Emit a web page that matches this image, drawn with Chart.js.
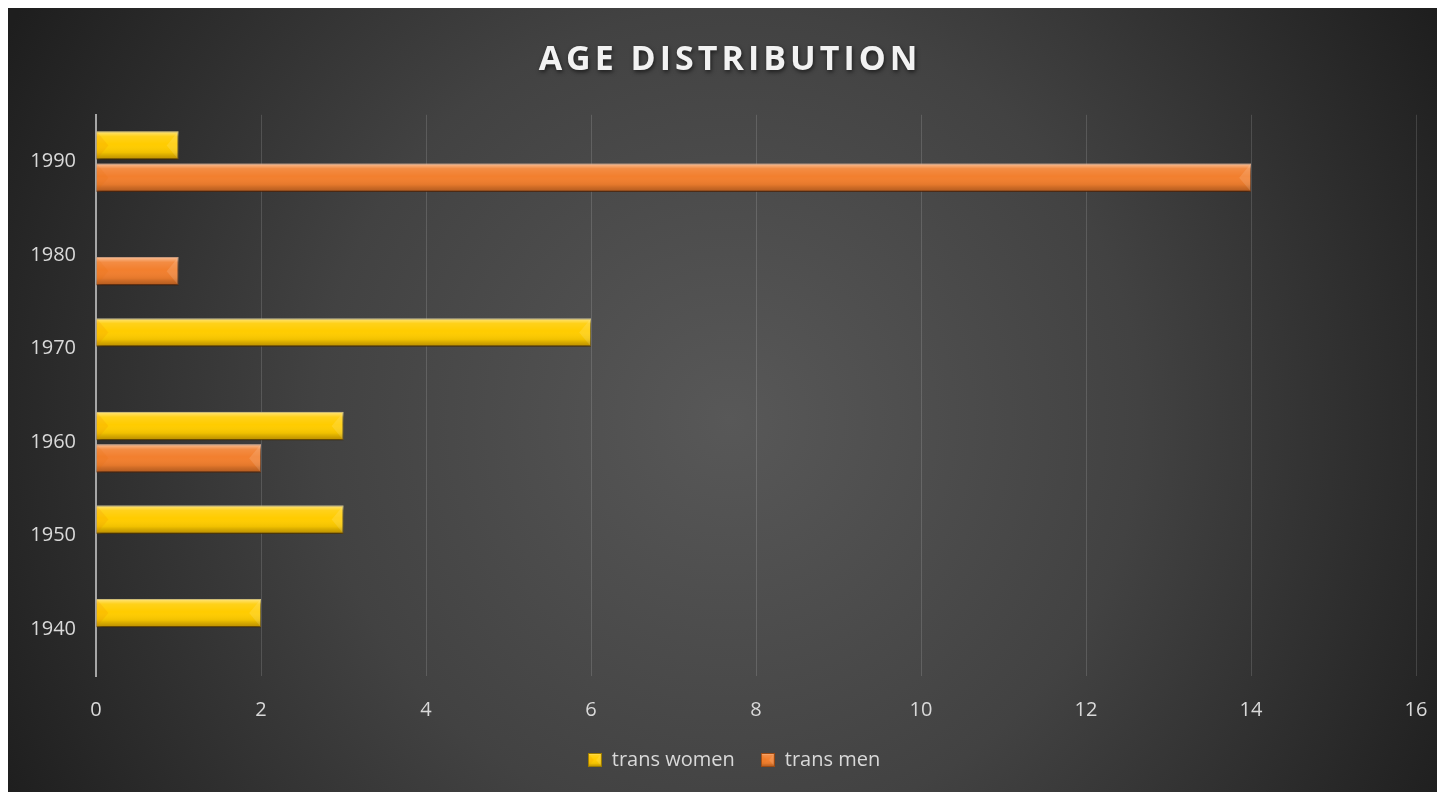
<!DOCTYPE html>
<html>
<head>
<meta charset="utf-8">
<script src="https://cdn.jsdelivr.net/npm/chart.js@4.4.1/dist/chart.umd.min.js"></script>
<style>
    body { margin: 8px; overflow: hidden; background: #fff; }
    canvas { display: block; }
</style>
</head>
<body>
<canvas id="myChart" width="1445" height="792"></canvas>
<script>
// data (top row first)
var decades = ['1990', '1980', '1970', '1960', '1950', '1940'];
var transWomen = [1, 0, 6, 3, 3, 2];
var transMen = [14, 1, 0, 2, 0, 0];
var seriesNames = ['trans women', 'trans men'];
var xMax = 16;
var xStep = 2;

var YELLOW = '#FFCC00';
var ORANGE = '#F27F2E';
var textColor = '#d9d9d9';
var fontFamily = "'Open Sans', 'DejaVu Sans', sans-serif";

// bevel look drawn over a rectangle
function drawBevel(ctx, L, R, T, B) {
    var h = B - T;
    var b = Math.min(h * 0.42, (R - L) / 2);
    var g = ctx.createLinearGradient(0, T, 0, B);
    g.addColorStop(0, 'rgba(255,255,255,0.5)');
    g.addColorStop(0.18, 'rgba(255,255,255,0.1)');
    g.addColorStop(0.45, 'rgba(255,255,255,0)');
    g.addColorStop(0.75, 'rgba(0,0,0,0.06)');
    g.addColorStop(1, 'rgba(60,20,0,0.35)');
    ctx.fillStyle = g;
    ctx.fillRect(L, T, R - L, h);

    ctx.beginPath();
    ctx.moveTo(L, T);
    ctx.lineTo(L + b, T + h / 2);
    ctx.lineTo(L, B);
    ctx.closePath();
    ctx.fillStyle = 'rgba(230,110,0,0.12)';
    ctx.fill();

    ctx.beginPath();
    ctx.moveTo(R, T);
    ctx.lineTo(R - b, T + h / 2);
    ctx.lineTo(R, B);
    ctx.closePath();
    ctx.fillStyle = 'rgba(255,255,255,0.12)';
    ctx.fill();
}

function makeSwatch(color, border) {
    var c = document.createElement('canvas');
    c.width = 14;
    c.height = 14;
    var x = c.getContext('2d');
    x.fillStyle = color;
    x.fillRect(0, 0, 14, 14);
    drawBevel(x, 0, 14, 0, 14);
    x.strokeStyle = border;
    x.lineWidth = 1;
    x.strokeRect(0.5, 0.5, 13, 13);
    return c;
}

var swatches = [makeSwatch(YELLOW, '#9a7a00'), makeSwatch(ORANGE, '#9a4a14')];

// title and legend are centred on the whole page, not on the padded box
function shiftBox(box, dx, styler) {
    if (!box || box._patched) return;
    var orig = box.draw;
    box.draw = function() {
        var c = this.ctx;
        c.save();
        c.translate(dx, 0);
        if (styler) styler(c);
        orig.apply(this, arguments);
        c.restore();
    };
    box._patched = true;
}

var bgPlugin = {
    id: 'bg',
    beforeDraw: function(chart) {
        var ctx = chart.ctx;
        var g = ctx.createRadialGradient(722, 412, 0, 722, 412, 820);
        g.addColorStop(0, '#585858');
        g.addColorStop(0.5, '#424242');
        g.addColorStop(1, '#1e1e1e');
        ctx.save();
        ctx.fillStyle = g;
        ctx.fillRect(0, 0, chart.width, chart.height);
        ctx.restore();

        shiftBox(chart.titleBlock, 18, function(c) {
            c.letterSpacing = '4px';
            c.shadowColor = 'rgba(0,0,0,0.6)';
            c.shadowBlur = 4;
            c.shadowOffsetX = 1;
            c.shadowOffsetY = 2;
        });
        shiftBox(chart.legend, 22);
    },
    beforeDatasetsDraw: function(chart) {
        var ctx = chart.ctx;
        ctx.save();
        ctx.shadowColor = 'rgba(0,0,0,0.55)';
        ctx.shadowBlur = 5;
        ctx.shadowOffsetX = 1;
        ctx.shadowOffsetY = 3;
    },
    afterDatasetsDraw: function(chart) {
        var ctx = chart.ctx;
        ctx.restore();
        ctx.save();
        chart.data.datasets.forEach(function(ds, i) {
            chart.getDatasetMeta(i).data.forEach(function(bar, j) {
                if (!ds.data[j]) return;
                var p = bar.getProps(['x', 'y', 'base', 'height'], true);
                drawBevel(ctx, p.base, p.x, p.y - p.height / 2, p.y + p.height / 2);
            });
        });
        ctx.restore();
    }
};

var ctx = document.getElementById('myChart').getContext('2d');

var chart = new Chart(ctx, {
    type: 'bar',
    data: {
        labels: decades,
        datasets: [{
            label: seriesNames[0],
            data: transWomen,
            backgroundColor: YELLOW,
            borderColor: '#a88600',
            borderWidth: function(c) { return c.raw ? 1 : 0; },
            categoryPercentage: 0.69,
            barPercentage: 0.875
        }, {
            label: seriesNames[1],
            data: transMen,
            backgroundColor: ORANGE,
            borderColor: '#a5501a',
            borderWidth: function(c) { return c.raw ? 1 : 0; },
            categoryPercentage: 0.69,
            barPercentage: 0.875
        }]
    },
    options: {
        indexAxis: 'y',
        responsive: false,
        animation: false,
        layout: {
            padding: { left: 0, right: 37, top: 0, bottom: 20 }
        },
        plugins: {
            title: {
                display: true,
                text: 'AGE DISTRIBUTION',
                color: '#f2f2f2',
                font: { family: fontFamily, size: 34, weight: 'bold' },
                padding: { top: 32, bottom: 34 }
            },
            legend: {
                display: true,
                position: 'bottom',
                labels: {
                    color: textColor,
                    font: { family: fontFamily, size: 20 },
                    usePointStyle: true,
                    pointStyleWidth: 14,
                    padding: 26,
                    generateLabels: function(chart) {
                        var items = Chart.defaults.plugins.legend.labels.generateLabels(chart);
                        items.forEach(function(it, i) {
                            it.pointStyle = swatches[i];
                        });
                        return items;
                    }
                }
            },
            tooltip: { enabled: false }
        },
        scales: {
            x: {
                min: 0,
                max: xMax,
                ticks: {
                    stepSize: xStep,
                    color: textColor,
                    font: { family: fontFamily, size: 20 },
                    padding: 22
                },
                grid: {
                    color: 'rgba(255,255,255,0.14)',
                    lineWidth: 1,
                    drawTicks: false
                },
                border: { display: false },
                afterFit: function(scale) { scale.height = 48; }
            },
            y: {
                ticks: {
                    color: textColor,
                    font: { family: fontFamily, size: 20 },
                    padding: 20
                },
                grid: { display: false, drawTicks: false },
                border: { display: true, color: '#a6a6a6', width: 2 },
                afterFit: function(scale) { scale.width = 88; }
            }
        }
    },
    plugins: [bgPlugin]
});
chart.draw();
</script>
</body>
</html>
